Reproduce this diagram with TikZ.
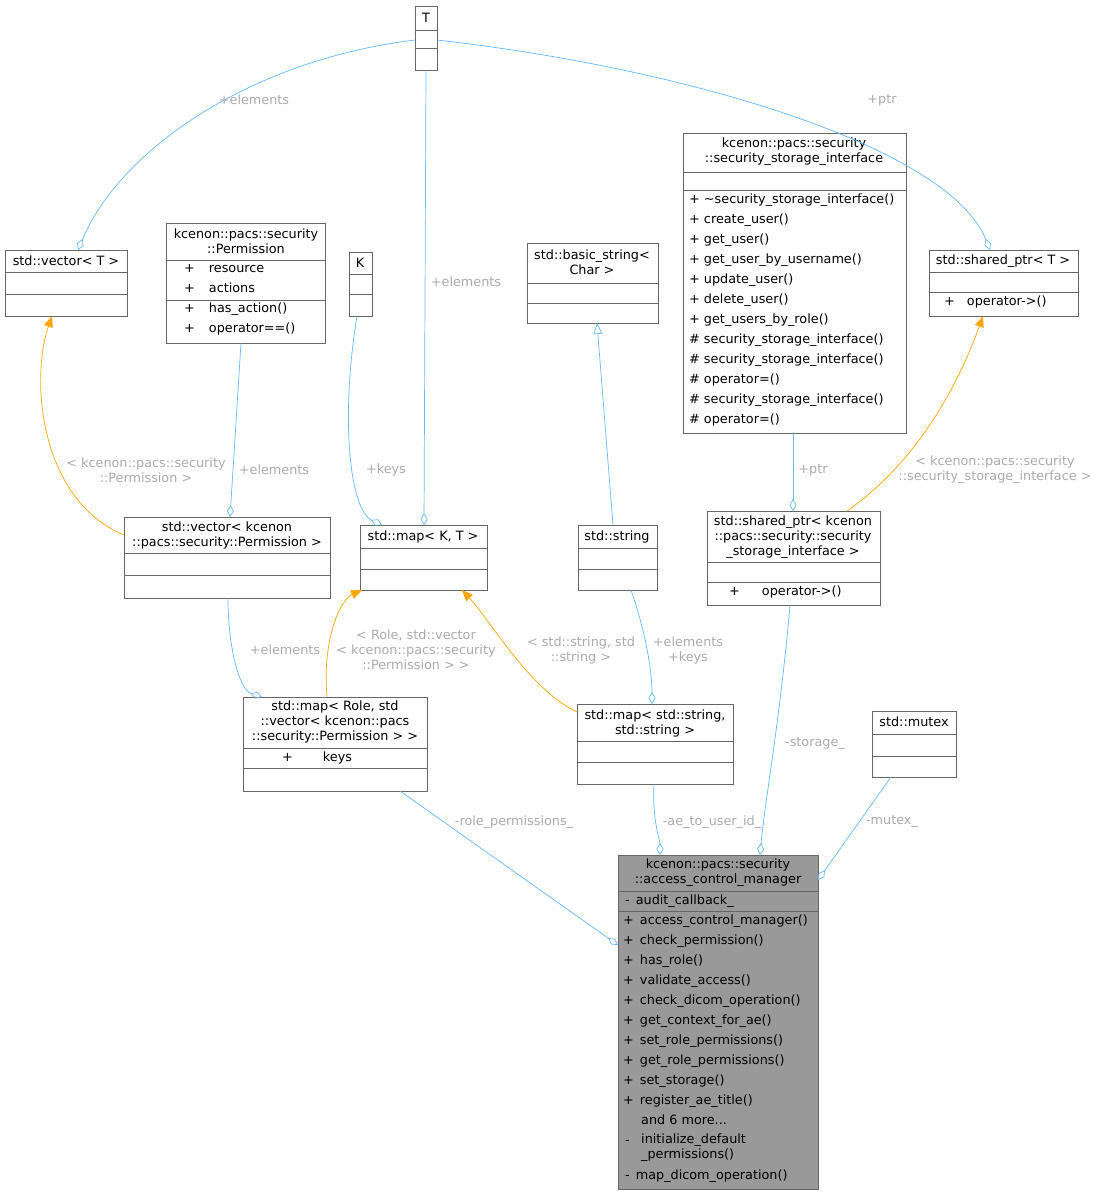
\documentclass[tikz,border=0pt]{standalone}
\usepackage{fontspec}
\setmainfont{DejaVu Sans}
\usetikzlibrary{arrows.meta}
\definecolor{edgeblue}{HTML}{63B8FF}
\definecolor{edgeorange}{HTML}{FFA500}
\definecolor{lblgray}{HTML}{AAAAAA}
\definecolor{boxline}{HTML}{666666}
\definecolor{mainfill}{HTML}{999999}

\newcommand\umlbox[6]{\node[cls,fill=#6,minimum width={(#4-#2)*1pt},minimum height={(#5-#3)*1pt}] (#1) at (#2,#3) {};}
\newcommand\sepline[3]{\draw[boxline,line width=0.6pt] (#1,#3) -- (#2,#3);}

\begin{document}
\begin{tikzpicture}[x=1pt,y=-1pt,font=\fontsize{12.8}{15}\selectfont,
  cls/.style={draw=boxline,line width=0.6pt,anchor=north west,inner sep=0pt,outer sep=0pt},
  ttl/.style={align=center,inner sep=0pt},
  mem/.style={anchor=west,inner sep=0pt,text height=9pt,text depth=3pt},
  lbl/.style={text=lblgray,align=center,inner sep=0pt},
  comp/.style={draw=edgeblue,line width=0.7pt,-{Diamond[open,length=12pt,width=7pt]}},
  inst/.style={draw=edgeorange,line width=0.7pt,-{Triangle[length=11pt,width=9pt,fill=edgeorange]}},
  inh/.style={draw=edgeblue,line width=0.7pt,-{Triangle[open,length=11pt,width=9pt]}}]
\useasboundingbox (0,0) rectangle (1099,1195);

% class boxes
\umlbox{T}{415}{6}{437}{70}{white}
\sepline{415}{437}{30}\sepline{415}{437}{48}
\node[ttl] at (426,18) {T};

\umlbox{vecT}{5}{250}{127}{316}{white}
\sepline{5}{127}{272}\sepline{5}{127}{294}
\node[ttl] at (66,261) {std::vector< T >};

\umlbox{perm}{166}{223}{325}{343}{white}
\sepline{166}{325}{260}\sepline{166}{325}{300}
\node[ttl] at (246,241) {kcenon::pacs::security\\::Permission};
\node[mem] at (184,269) {+\hspace{14pt}resource};
\node[mem] at (184,289) {+\hspace{14pt}actions};
\node[mem] at (184,309) {+\hspace{14pt}has\_action()};
\node[mem] at (184,329) {+\hspace{14pt}operator==()};

\umlbox{K}{349}{252}{372}{316}{white}
\sepline{349}{372}{274}\sepline{349}{372}{294}
\node[ttl] at (360,263) {K};

\umlbox{bstr}{527}{243}{658}{323}{white}
\sepline{527}{658}{283}\sepline{527}{658}{303}
\node[ttl] at (592,262) {std::basic\_string<\\Char >};

\umlbox{ssi}{683}{133}{906}{433}{white}
\sepline{683}{906}{172}\sepline{683}{906}{190}
\node[ttl] at (794,152) {kcenon::pacs::security\\::security\_storage\_interface};
\foreach \t [count=\i from 0] in {+ \textasciitilde security\_storage\_interface(),+ create\_user(),+ get\_user(),+ get\_user\_by\_username(),+ update\_user(),+ delete\_user(),+ get\_users\_by\_role(),\# security\_storage\_interface(),\# security\_storage\_interface(),\# operator=(),\# security\_storage\_interface(),\# operator=()}
  \node[mem] at (689,200+20*\i) {\t};

\umlbox{shptrT}{929}{250}{1078}{316}{white}
\sepline{929}{1078}{272}\sepline{929}{1078}{292}
\node[ttl] at (1003,261) {std::shared\_ptr< T >};
\node[mem] at (944,302) {+\hspace{12pt}operator->()};

\umlbox{vecPerm}{124}{517}{330}{598}{white}
\sepline{124}{330}{553}\sepline{124}{330}{575}
\node[ttl] at (227,535) {std::vector< kcenon\\::pacs::security::Permission >};

\umlbox{mapKT}{360}{525}{487}{590}{white}
\sepline{360}{487}{548}\sepline{360}{487}{569}
\node[ttl] at (423,537) {std::map< K, T >};

\umlbox{str}{578}{525}{657}{590}{white}
\sepline{578}{657}{548}\sepline{578}{657}{569}
\node[ttl] at (617,537) {std::string};

\umlbox{shptrssi}{707}{511}{880}{605}{white}
\sepline{707}{880}{562}\sepline{707}{880}{582}
\node[ttl] at (793,537) {std::shared\_ptr< kcenon\\::pacs::security::security\\\_storage\_interface >};
\node[mem] at (729,592) {+\hspace{22pt}operator->()};

\umlbox{mapRole}{243}{697}{427}{791}{white}
\sepline{243}{427}{748}\sepline{243}{427}{768}
\node[ttl] at (335,722) {std::map< Role, std\\::vector< kcenon::pacs\\::security::Permission > >};
\node[mem] at (282,758) {+\hspace{30pt}keys};

\umlbox{mapss}{577}{704}{733}{784}{white}
\sepline{577}{733}{741}\sepline{577}{733}{762}
\node[ttl] at (655,723) {std::map< std::string,\\std::string >};

\umlbox{mutex}{872}{711}{956}{777}{white}
\sepline{872}{956}{734}\sepline{872}{956}{756}
\node[ttl] at (914,722) {std::mutex};

\umlbox{acm}{618}{855}{818}{1189}{mainfill}
\sepline{618}{818}{891}\sepline{618}{818}{911}
\node[ttl] at (718,873) {kcenon::pacs::security\\::access\_control\_manager};
\node[mem] at (625,901) {-\hspace{6pt}audit\_callback\_};
\foreach \t [count=\i from 0] in {access\_control\_manager(),check\_permission(),has\_role(),validate\_access(),check\_dicom\_operation(),get\_context\_for\_ae(),set\_role\_permissions(),get\_role\_permissions(),set\_storage(),register\_ae\_title()}
  \node[mem] at (623,921+20*\i) {+\hspace{6pt}\t};
\node[mem] at (641,1121) {and 6 more...};
\node[mem] at (625,1141) {-};
\node[anchor=north west,inner sep=0pt,align=left] at (641,1134) {initialize\_default\\\_permissions()};
\node[mem] at (625,1176) {-\hspace{6pt}map\_dicom\_operation()};

% connectors
\draw[comp] ([shift={(0,34)}]T.north west) .. controls (250,60) and (120,150) .. ([shift={(73,0)}]vecT.north west);
\node[lbl] at (254,100) {+elements};
\draw[comp] ([shift={(0,0)}]T.south) -- ([shift={(64,0)}]mapKT.north west);
\node[lbl] at (466,282) {+elements};
\draw[comp] ([shift={(0,34)}]T.north east) .. controls (700,70) and (950,150) .. ([shift={(61,0)}]shptrT.north west);
\node[lbl] at (882,100) {+ptr};
\draw[comp] ([shift={(75,0)}]perm.south west) -- ([shift={(106,0)}]vecPerm.north west);
\node[lbl] at (274,470) {+elements};
\draw[comp] ([shift={(8,0)}]K.south west) .. controls (340,420) and (350,510) .. ([shift={(22,0)}]mapKT.north west);
\node[lbl] at (386,470) {+keys};
\draw[inst] ([shift={(0,18)}]vecPerm.north west) .. controls (40,500) and (30,380) .. ([shift={(47,0)}]vecT.south west);
\node[lbl] at (146,470) {< kcenon::pacs::security\\::Permission >};
\draw[inh] ([shift={(35,0)}]str.north west) -- ([shift={(70,0)}]bstr.south west);
\draw[comp] ([shift={(110,0)}]ssi.south west) -- ([shift={(86,0)}]shptrssi.north west);
\node[lbl] at (813,470) {+ptr};
\draw[inst] ([shift={(140,0)}]shptrssi.north west) .. controls (920,460) and (960,380) .. ([shift={(54,0)}]shptrT.south west);
\node[lbl] at (995,470) {< kcenon::pacs::security\\::security\_storage\_interface >};
\draw[comp] ([shift={(104,0)}]vecPerm.south west) .. controls (228,650) and (240,690) .. ([shift={(19,0)}]mapRole.north west);
\node[lbl] at (285,650) {+elements};
\draw[inst] ([shift={(84,0)}]mapRole.north west) .. controls (322,640) and (340,600) .. ([shift={(2,0)}]mapKT.south west);
\node[lbl] at (416,650) {< Role, std::vector\\< kcenon::pacs::security\\::Permission > >};
\draw[inst] ([shift={(0,8)}]mapss.north west) .. controls (530,690) and (490,620) .. ([shift={(102,0)}]mapKT.south west);
\node[lbl] at (581,650) {< std::string, std\\::string >};
\draw[comp] ([shift={(53,0)}]str.south west) .. controls (645,630) and (652,670) .. ([shift={(75,0)}]mapss.north west);
\node[lbl] at (688,650) {+elements\\+keys};
\draw[comp] ([shift={(157,0)}]mapRole.south west) -- ([shift={(0,90)}]acm.north west);
\node[lbl] at (514,822) {-role\_permissions\_};
\draw[comp] ([shift={(77,0)}]mapss.south west) .. controls (652,820) and (660,840) .. ([shift={(42,0)}]acm.north west);
\node[lbl] at (712,822) {-ae\_to\_user\_id\_};
\draw[comp] ([shift={(83,0)}]shptrssi.south west) .. controls (780,720) and (765,800) .. ([shift={(142,0)}]acm.north west);
\node[lbl] at (815,744) {-storage\_};
\draw[comp] ([shift={(19,0)}]mutex.south west) -- ([shift={(0,25)}]acm.north east);
\node[lbl] at (892,822) {-mutex\_};
\end{tikzpicture}
\end{document}
